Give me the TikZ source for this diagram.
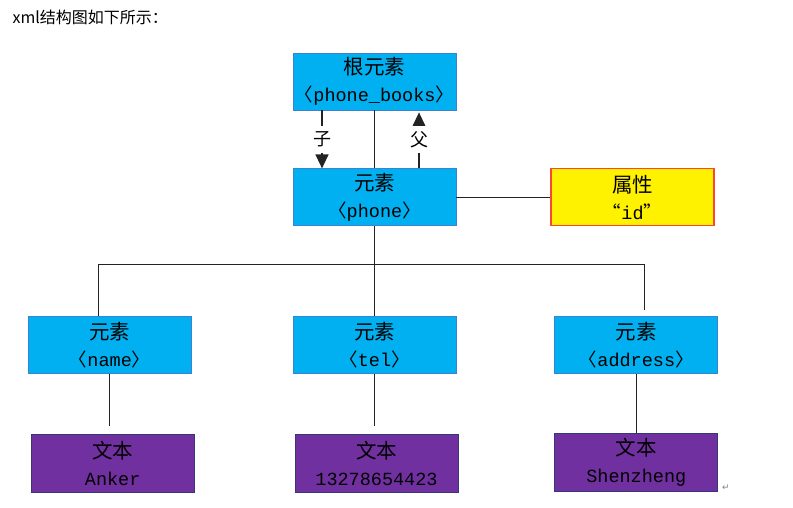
\documentclass[tikz,border=0pt]{standalone}
\usepackage{fontspec}
\newfontfamily\cjk{Noto Sans CJK SC}
\newfontfamily\lat{Liberation Mono}
\newfontfamily\sym{DejaVu Sans}
\usetikzlibrary{arrows.meta,positioning}
\definecolor{elemblue}{RGB}{0,176,240}
\definecolor{elemline}{RGB}{60,130,210}
\definecolor{attrred}{RGB}{250,70,50}
\definecolor{textpurple}{RGB}{112,48,160}
\definecolor{textline}{RGB}{55,55,120}
\definecolor{wire}{RGB}{35,35,35}
\newcommand\zh[1]{{\cjk\fontsize{20.5}{27}\selectfont #1}}
\newcommand\tagl{{\cjk 〈}}
\newcommand\tagr{{\cjk 〉}}

\begin{document}
\begin{tikzpicture}[x=1pt,y=-1pt,>={Triangle[width=13pt,length=14pt]},
  box/.style={minimum width=163pt,minimum height=57pt,inner sep=0pt,align=center,
    font=\lat\fontsize{18.5}{27}\selectfont},
  elem/.style={box,fill=elemblue,draw=elemline,line width=0.8pt},
  attr/.style={box,fill=yellow,draw=attrred,line width=1.2pt},
  txt/.style={box,minimum height=58pt,fill=textpurple,draw=textline,line width=0.8pt},
  wire/.style={draw=wire,line width=1.3pt},
  rel/.style={fill=white,inner sep=1pt,minimum height=27pt,font=\cjk\fontsize{18}{18}\selectfont}]

\useasboundingbox (0,0) rectangle (793,508);

\node[anchor=west,font=\cjk\fontsize{16}{16}\selectfont] (title) at (9,17) {xml结构图如下所示：};

\node[elem]   (books)  at (374.5,81.5)           {\zh{根元素}\\\tagl phone\_books\tagr};
 \node[elem]  (phone)  [below=58pt of books]     {\zh{元素}\\\tagl phone\tagr};
 \node[attr]  (id)     [right=94pt of phone]     {\zh{属性}\\{\cjk “}id{\cjk ”}};

 \node[elem]  (tel)    [below=90pt of phone]     {\zh{元素}\\\tagl tel\tagr};
 \node[elem]  (name)   [left=101pt of tel]       {\zh{元素}\\\tagl name\tagr};
 \node[elem]  (addr)   [right=98pt of tel]       {\zh{元素}\\\tagl address\tagr};

 \node[txt]   (tname)  [below=60pt of name,xshift=3pt] {\zh{文本}\\Anker};
 \node[txt]   (ttel)   [below=60pt of tel,xshift=2pt]  {\zh{文本}\\13278654423};
 \node[txt]   (taddr)  [below=59pt of addr]      {\zh{文本}\\Shenzheng};

\node[text=gray,font=\sym\fontsize{9}{9}\selectfont] (ret) at (726,488) {↵};

% child / parent
\draw[wire,->] ([xshift=-52.5pt]books.south) -- node[rel]{子} ([xshift=-52.5pt]phone.north);
\draw[wire,->,shorten >=2pt] ([xshift=44.5pt]phone.north) -- node[rel]{父} ([xshift=44.5pt]books.south);

\path[wire] (books) edge (phone)
            (phone) edge (id)
            (phone) edge (tel);

\draw[wire,shorten >=6pt] ([xshift=-11pt]name.north) |- ([yshift=-38pt]phone.south) -| ([xshift=8.5pt]addr.north);

\path[wire] (name.south) edge[shorten >=8pt] (name.south |- tname.north)
            (tel.south)  edge[shorten >=8pt] (tel.south |- ttel.north)
            (addr)       edge (taddr);

\end{tikzpicture}
\end{document}
